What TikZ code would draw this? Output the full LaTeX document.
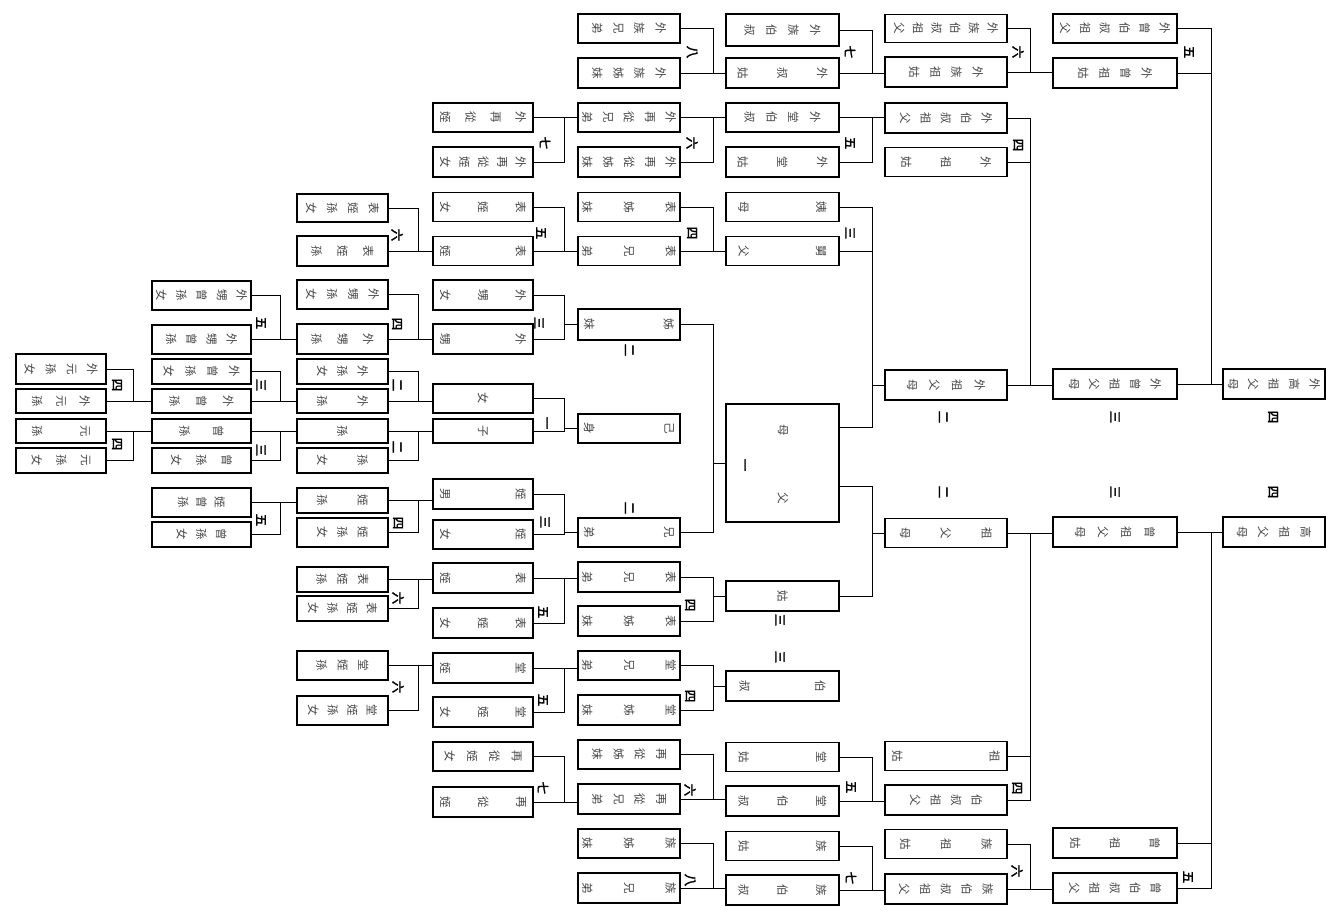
\documentclass[tikz,border=0pt]{standalone}
\usepackage{fontspec}
\usepackage{graphicx}
\usetikzlibrary{calc}
\newfontfamily\cjk{Noto Sans CJK TC}
\newfontfamily\cjkb[FakeBold=2.5]{Noto Sans CJK TC}
\makeatletter
\newcommand\vt[2]{\vbox to #1pt{\offinterlineskip\vskip 0pt plus 1fil\let\vt@sep\relax
  \@tfor\vt@c:=#2\do{\vt@sep\hbox to 1em{\hss\vt@c\hss}\let\vt@sep\vfill}\vskip 0pt plus 1fil}}
\makeatother
\tikzset{
  bx/.style={draw, line width=1.5pt, inner sep=0pt, font=\cjk\fontsize{11.5}{13}\selectfont, text=black!72},
  txt/.style={inner sep=0pt, font=\cjk\fontsize{11.5}{13}\selectfont, text=black!72},
  lab/.style={inner sep=0pt, font=\cjkb\fontsize{12.5}{14}\selectfont},
  ln/.style={line width=0.9pt}
}
\newcommand\bxn[7]{\node[bx,minimum width=#2,minimum height=#5] (#1) at (#3,#4) {\rotatebox{-90}{\vt{#6}{#7}}};}
\newcommand\lbl[4]{\node[lab] (#1) at (#2,#3) {\rotatebox{-90}{#4}};}
\newcommand\brkt[3]{\draw[ln] (#1.east) -- (#1.east -| #3) -- (#2.east -| #3) -- (#2.east);}
\newcommand\plk[2]{\draw[ln] (#1.west) -- (#1.west -| #2);}
\newcommand\hlk[2]{\draw[ln] (#1.east) -- (#2.west |- #1.east);}
\begin{document}
\begin{tikzpicture}[x=1pt,y=-1pt]
\fill[white] (0,0) rectangle (1335,919);
\useasboundingbox (0,0) rectangle (1335,919);
\coordinate (XA) at (133,0);
\coordinate (XB) at (280,0);
\coordinate (XC) at (418,0);
\coordinate (XD) at (564,0);
\coordinate (XE) at (713,0);
\coordinate (XF) at (872,0);
\coordinate (XG) at (1030,0);
\coordinate (XH) at (1211,0);
% Column I
\bxn{I1}{102}{1274}{384}{30}{92}{外高祖父母}
\bxn{I2}{102}{1274}{532}{30}{74}{高祖父母}
% Column H
\bxn{H1}{124}{1115}{28.5}{29}{110}{外曾伯叔祖父}
\bxn{H2}{124}{1115}{73}{30}{74}{外曾祖姑}
\bxn{H3}{124}{1115}{384}{30}{92}{外曾祖父母}
\bxn{H4}{124}{1115}{532}{30}{80}{曾祖父母}
\bxn{H5}{124}{1115}{843}{30}{90}{曾祖姑}
\bxn{H6}{124}{1115}{888}{30}{92}{曾伯叔祖父}
% Column G
\bxn{G1}{122}{946}{28.5}{28}{104}{外族伯叔祖父}
\bxn{G2}{122}{946}{72}{30}{74}{外族祖姑}
\bxn{G3}{122}{946}{118}{30}{92}{外伯叔祖父}
\bxn{G4}{122}{946}{162}{29}{90}{外祖姑}
\bxn{G5}{122}{946}{385}{30}{78}{外祖父母}
\bxn{G6}{122}{946}{533}{29}{92}{祖父母}
\bxn{G7}{122}{946}{756}{29}{108}{祖姑}
\bxn{G8}{122}{946}{800}{30}{72}{伯叔祖父}
\bxn{G9}{122}{946}{844}{29}{92}{族祖姑}
\bxn{G10}{122}{946}{889}{30}{94}{族伯叔祖父}
% Column F
\bxn{F1}{113}{782.5}{30}{32}{76}{外族伯叔}
\bxn{F2}{113}{782.5}{73}{30}{90}{外叔姑}
\bxn{F3}{113}{782.5}{117.5}{29}{76}{外堂伯叔}
\bxn{F4}{113}{782.5}{162}{30}{90}{外堂姑}
\bxn{F5}{113}{782.5}{207}{29}{88}{姨母}
\bxn{F6}{113}{782.5}{251}{29}{88}{舅父}
\node[bx,minimum width=113,minimum height=118] (F7) at (782.5,463) {};
\node[txt] (F7m) at (783,430) {\rotatebox{-90}{母}};
\node[txt] (F7f) at (783,498) {\rotatebox{-90}{父}};
\coordinate (mu) at ($(F7.north east)!0.2!(F7.south east)$);
\coordinate (fu) at ($(F7.north east)!0.7!(F7.south east)$);
\bxn{F8}{113}{782.5}{596}{30}{11}{姑}
\bxn{F9}{113}{782.5}{686}{30}{86}{伯叔}
\bxn{F10}{113}{782.5}{757}{29}{88}{堂姑}
\bxn{F11}{113}{782.5}{801}{30}{88}{堂伯叔}
\bxn{F12}{113}{782.5}{846}{29}{88}{族姑}
\bxn{F13}{113}{782.5}{890}{30}{88}{族伯叔}
% Column E
\bxn{E1}{102}{629}{28.5}{29}{74}{外族兄弟}
\bxn{E2}{102}{629}{73}{30}{74}{外族姊妹}
\bxn{E3}{102}{629}{117.5}{29}{94}{外再從兄弟}
\bxn{E4}{102}{629}{162}{30}{94}{外再從姊妹}
\bxn{E5}{102}{629}{207}{29}{94}{表姊妹}
\bxn{E6}{102}{629}{251}{29}{94}{表兄弟}
\bxn{E7}{102}{629}{324.5}{31}{90}{姊妹}
\bxn{E8}{102}{629}{428.5}{29}{90}{己身}
\bxn{E9}{102}{629}{532.5}{29}{90}{兄弟}
\bxn{E10}{102}{629}{577}{30}{94}{表兄弟}
\bxn{E11}{102}{629}{621}{30}{94}{表姊妹}
\bxn{E12}{102}{629}{665.5}{29}{94}{堂兄弟}
\bxn{E13}{102}{629}{710}{30}{94}{堂姊妹}
\bxn{E14}{102}{629}{754.5}{29}{74}{再從姊妹}
\bxn{E15}{102}{629}{799}{30}{74}{再從兄弟}
\bxn{E16}{102}{629}{843.5}{29}{94}{族姊妹}
\bxn{E17}{102}{629}{888}{30}{94}{族兄弟}
% Column D
\bxn{D1}{100}{483}{117.5}{29}{86}{外再從姪}
\bxn{D2}{100}{483}{162}{30}{86}{外再從姪女}
\bxn{D3}{100}{483}{207}{29}{86}{表姪女}
\bxn{D4}{100}{483}{251}{29}{86}{表姪}
\bxn{D5}{100}{483}{295}{30}{86}{外甥女}
\bxn{D6}{100}{483}{339}{30}{86}{外甥}
\bxn{D7}{100}{483}{398.5}{29}{11}{女}
\bxn{D8}{100}{483}{431}{24}{11}{子}
\bxn{D9}{100}{483}{494}{30}{86}{姪男}
\bxn{D10}{100}{483}{534.5}{29}{86}{姪女}
\bxn{D11}{100}{483}{578}{30}{86}{表姪}
\bxn{D12}{100}{483}{623}{30}{86}{表姪女}
\bxn{D13}{100}{483}{668}{30}{86}{堂姪}
\bxn{D14}{100}{483}{712}{30}{86}{堂姪女}
\bxn{D15}{100}{483}{756.5}{29}{77}{再從姪女}
\bxn{D16}{100}{483}{802}{30}{86}{再從姪}
% Column C
\bxn{C1}{91}{342.5}{208}{28}{73}{表姪孫女}
\bxn{C2}{91}{342.5}{251}{30}{62}{表姪孫}
\bxn{C3}{91}{342.5}{294.5}{29}{73}{外甥孫女}
\bxn{C4}{91}{342.5}{339}{30}{62}{外甥孫}
\bxn{C5}{91}{342.5}{371.5}{25}{51}{外孫女}
\bxn{C6}{91}{342.5}{401}{24}{51}{外孫}
\bxn{C7}{91}{342.5}{431}{24}{11}{孫}
\bxn{C8}{91}{342.5}{460.5}{25}{51}{孫女}
\bxn{C9}{91}{342.5}{500.5}{25}{51}{姪孫}
\bxn{C10}{91}{342.5}{532.5}{29}{51}{姪孫女}
\bxn{C11}{91}{342.5}{579.5}{25}{52}{表姪孫}
\bxn{C12}{91}{342.5}{608.5}{25}{69}{表姪孫女}
\bxn{C13}{91}{342.5}{665.5}{29}{52}{堂姪孫}
\bxn{C14}{91}{342.5}{710.5}{29}{69}{堂姪孫女}
% Column B
\bxn{B1}{99}{201.5}{295.5}{29}{91}{外甥曾孫女}
\bxn{B2}{99}{201.5}{339.5}{29}{71}{外甥曾孫}
\bxn{B3}{99}{201.5}{371.5}{25}{76}{外曾孫女}
\bxn{B4}{99}{201.5}{401}{24}{64}{外曾孫}
\bxn{B5}{99}{201.5}{431}{24}{44}{曾孫}
\bxn{B6}{99}{201.5}{460.5}{25}{61}{曾孫女}
\bxn{B7}{99}{201.5}{502.5}{29}{47}{姪曾孫}
\bxn{B8}{99}{201.5}{534.5}{25}{50}{曾孫女}
% Column A
\bxn{A1}{90}{61}{369}{30}{73}{外元孫女}
\bxn{A2}{90}{61}{401}{24}{58}{外元孫}
\bxn{A3}{90}{61}{431}{24}{58}{元孫}
\bxn{A4}{90}{61}{460.5}{25}{59}{元孫女}
% connectors A-B
\brkt{A1}{A2}{XA} \hlk{A2}{B4}
\brkt{A3}{A4}{XA} \hlk{A3}{B5}
% B-C
\brkt{B1}{B2}{XB} \hlk{B2}{C4}
\brkt{B3}{B4}{XB} \hlk{B4}{C6}
\brkt{B5}{B6}{XB} \hlk{B5}{C7}
\brkt{B7}{B8}{XB} \hlk{B7}{C9}
% C-D
\brkt{C1}{C2}{XC} \hlk{C2}{D4}
\brkt{C3}{C4}{XC} \hlk{C4}{D6}
\brkt{C5}{C6}{XC} \hlk{C6}{D7}
\brkt{C7}{C8}{XC} \hlk{C7}{D8}
\brkt{C9}{C10}{XC} \hlk{C9}{D9}
\brkt{C11}{C12}{XC} \hlk{C11}{D11}
\brkt{C13}{C14}{XC} \hlk{C13}{D13}
% D-E
\brkt{D1}{D2}{XD} \hlk{D1}{E3}
\brkt{D3}{D4}{XD} \hlk{D4}{E6}
\brkt{D5}{D6}{XD} \plk{E7}{XD}
\brkt{D7}{D8}{XD} \plk{E8}{XD}
\brkt{D9}{D10}{XD} \plk{E9}{XD}
\brkt{D11}{D12}{XD} \hlk{D11}{E10}
\brkt{D13}{D14}{XD} \hlk{D13}{E12}
\brkt{D15}{D16}{XD} \hlk{D16}{E15}
% E-F
\brkt{E1}{E2}{XE} \hlk{E2}{F2}
\brkt{E3}{E4}{XE} \hlk{E3}{F3}
\brkt{E5}{E6}{XE} \hlk{E6}{F6}
\brkt{E7}{E9}{XE} \plk{F7}{XE}
\brkt{E10}{E11}{XE} \plk{F8}{XE}
\brkt{E12}{E13}{XE} \plk{F9}{XE}
\brkt{E14}{E15}{XE} \hlk{E15}{F11}
\brkt{E16}{E17}{XE} \hlk{E17}{F13}
% F-G
\brkt{F1}{F2}{XF} \hlk{F2}{G2}
\brkt{F3}{F4}{XF} \hlk{F3}{G3}
\draw[ln] (F5.east) -- (F5.east -| XF) -- (mu -| XF) -- (mu);
\draw[ln] (F6.east) -- (F6.east -| XF);
\plk{G5}{XF}
\draw[ln] (fu) -- (fu -| XF) -- (F8.east -| XF) -- (F8.east);
\plk{G6}{XF}
\brkt{F10}{F11}{XF} \hlk{F11}{G8}
\brkt{F12}{F13}{XF} \hlk{F13}{G10}
% G-H
\brkt{G1}{G2}{XG} \hlk{G2}{H2}
\draw[ln] (G3.east) -- (G3.east -| XG) -- (G5.east -| XG) -- (G5.east);
\draw[ln] (G4.east) -- (G4.east -| XG);
\hlk{G5}{H3}
\draw[ln] (G6.east) -- (G6.east -| XG) -- (G8.east -| XG) -- (G8.east);
\draw[ln] (G7.east) -- (G7.east -| XG);
\hlk{G6}{H4}
\brkt{G9}{G10}{XG} \hlk{G10}{H6}
% H-I
\draw[ln] (H1.east) -- (H1.east -| XH) -- (H3.east -| XH) -- (H3.east);
\draw[ln] (H2.east) -- (H2.east -| XH);
\hlk{H3}{I1}
\draw[ln] (H4.east) -- (H4.east -| XH) -- (H6.east -| XH) -- (H6.east);
\draw[ln] (H5.east) -- (H5.east -| XH);
\hlk{H4}{I2}
% labels
\lbl{l1}{1273}{417}{四} \lbl{l2}{1273}{492}{四}
\lbl{l3}{1189}{52}{五} \lbl{l4}{1115}{417}{三} \lbl{l5}{1115}{492}{三} \lbl{l6}{1188}{877}{五}
\lbl{l7}{1018}{52}{六} \lbl{l8}{1018}{145}{四} \lbl{l9}{943}{417}{二} \lbl{l10}{943}{492}{二}
\lbl{l11}{1017}{788}{四} \lbl{l12}{1017}{871}{六}
\lbl{l13}{850}{52}{七} \lbl{l14}{850}{143}{五} \lbl{l15}{850}{233}{三} \lbl{l16}{743}{465}{一}
\lbl{l17}{780}{620}{三} \lbl{l18}{780}{657}{三} \lbl{l19}{851}{787}{五} \lbl{l20}{851}{878}{七}
\lbl{l21}{692}{52}{八} \lbl{l22}{692}{143}{六} \lbl{l23}{692}{233}{四} \lbl{l24}{629}{350}{二}
\lbl{l25}{629}{508}{二} \lbl{l26}{690}{605}{四} \lbl{l27}{690}{696}{四} \lbl{l28}{690}{790}{六}
\lbl{l29}{690}{880}{八}
\lbl{l30}{545}{143}{七} \lbl{l31}{541}{233}{五} \lbl{l32}{539}{323}{三} \lbl{l33}{545}{423}{一}
\lbl{l34}{545}{522}{三} \lbl{l35}{543}{612}{五} \lbl{l36}{543}{700}{五} \lbl{l37}{543}{788}{七}
\lbl{l38}{397}{235}{六} \lbl{l39}{397}{324}{四} \lbl{l40}{397}{385}{二} \lbl{l41}{397}{447}{二}
\lbl{l42}{398}{523}{四} \lbl{l43}{398}{598}{六} \lbl{l44}{398}{687}{六}
\lbl{l45}{261}{323}{五} \lbl{l46}{261}{385}{三} \lbl{l47}{261}{450}{三} \lbl{l48}{261}{520}{五}
\lbl{l49}{117}{385}{四} \lbl{l50}{117}{444}{四}
\end{tikzpicture}
\end{document}
